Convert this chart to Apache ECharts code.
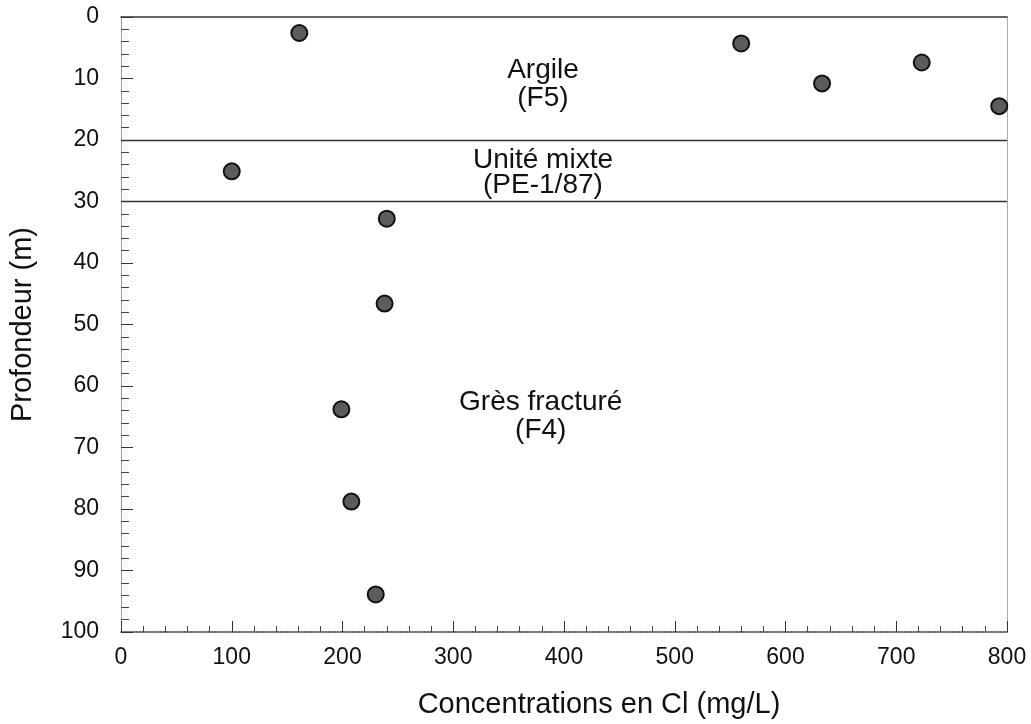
<!DOCTYPE html>
<html>
<head>
<meta charset="utf-8">
<script src="https://cdn.jsdelivr.net/npm/echarts@6/dist/echarts.min.js"></script>
<style>
  html, body { margin: 0; padding: 0; background: #fff; overflow: hidden; }
  #chart { width: 1031px; height: 724px; }
</style>
</head>
<body>
<div id="chart"></div>
<script>
// Chloride concentration (mg/L) and sampling depth (m)
const chloride = [161, 560, 633, 723, 793, 100, 240, 238, 199, 208, 230];
const depth = [2.6, 4.3, 10.8, 7.4, 14.5, 25.1, 32.8, 46.6, 63.8, 78.8, 93.9];

// Hydrostratigraphic units: boundaries and names
const unitBoundaries = [20, 30];
const unitNames = ['Argile\n(F5)', 'Unité mixte\n(PE-1/87)', 'Grès fracturé\n(F4)'];
const unitLabelDepth = [11.0, 25.4, 65.0];
const unitLabelConc = [381, 381, 379];

const FONT = '"Liberation Sans", Arial, Helvetica, sans-serif';
const chart = echarts.init(document.getElementById('chart'), null, { width: 1031, height: 724 });

const points = chloride.map((c, i) => [c, depth[i]]);
const unitLabels = unitNames.map((n, i) => ({
  value: [unitLabelConc[i], unitLabelDepth[i]],
  label: { formatter: n, lineHeight: i === 1 ? 25 : 28 }
}));

chart.setOption({
  backgroundColor: '#ffffff',
  animation: false,
  grid: { left: 105, right: 24, top: 17, bottom: 85 },
  xAxis: [
    {
      type: 'value', min: 0, max: 800, interval: 100, position: 'bottom',
      name: 'Concentrations en Cl (mg/L)', nameLocation: 'middle', nameGap: 58,
      nameTextStyle: { fontFamily: FONT, fontSize: 29, color: '#111', padding: [0, 0, 0, 70] },
      axisLine: { show: true, onZero: false, lineStyle: { color: '#333', width: 1.5, type: 'dotted' } },
      axisTick: { show: true, inside: true, length: 11, lineStyle: { color: '#333', width: 1 } },
      minorTick: { show: true, splitNumber: 5, length: 6, lineStyle: { color: '#444', width: 1 } },
      splitLine: { show: false },
      axisLabel: { fontFamily: FONT, fontSize: 23, color: '#111', margin: 14 }
    },
    {
      type: 'value', min: 0, max: 800, position: 'top',
      axisLine: { show: true, onZero: false, lineStyle: { color: '#333', width: 1.5 } },
      axisTick: { show: false }, axisLabel: { show: false }, splitLine: { show: false }
    }
  ],
  yAxis: [
    {
      type: 'value', inverse: true, min: 0, max: 100, interval: 10, position: 'left',
      name: 'Profondeur (m)', nameLocation: 'middle', nameGap: 66,
      nameTextStyle: { fontFamily: FONT, fontSize: 29, color: '#111', padding: [0, 0, 18, 0] },
      axisLine: { show: true, onZero: false, lineStyle: { color: '#888', width: 1, type: 'dotted' } },
      axisTick: { show: true, inside: true, length: 12, lineStyle: { color: '#333', width: 1 } },
      minorTick: { show: true, splitNumber: 5, length: 8, lineStyle: { color: '#444', width: 1 } },
      splitLine: { show: false },
      axisLabel: { fontFamily: FONT, fontSize: 23, color: '#111', margin: 22, padding: [8, 0, 0, 0] }
    },
    {
      type: 'value', inverse: true, min: 0, max: 100, position: 'right',
      axisLine: { show: true, onZero: false, lineStyle: { color: '#999', width: 1, type: 'dotted' } },
      axisTick: { show: false }, axisLabel: { show: false }, splitLine: { show: false }
    }
  ],
  series: [
    {
      type: 'scatter',
      data: points,
      symbol: 'circle',
      symbolSize: 16,
      itemStyle: { color: '#5c5c5c', borderColor: '#111', borderWidth: 2, opacity: 1 },
      markLine: {
        silent: true,
        symbol: 'none',
        label: { show: false },
        lineStyle: { color: '#333', width: 1.3, type: 'solid' },
        data: unitBoundaries.map(d => ({ yAxis: d }))
      },
      z: 3
    },
    {
      type: 'scatter',
      data: unitLabels,
      symbolSize: 0,
      silent: true,
      itemStyle: { opacity: 1 },
      label: {
        show: true, position: 'inside',
        fontFamily: FONT, fontSize: 28, color: '#111', align: 'center'
      },
      z: 4
    }
  ]
});
</script>
</body>
</html>
